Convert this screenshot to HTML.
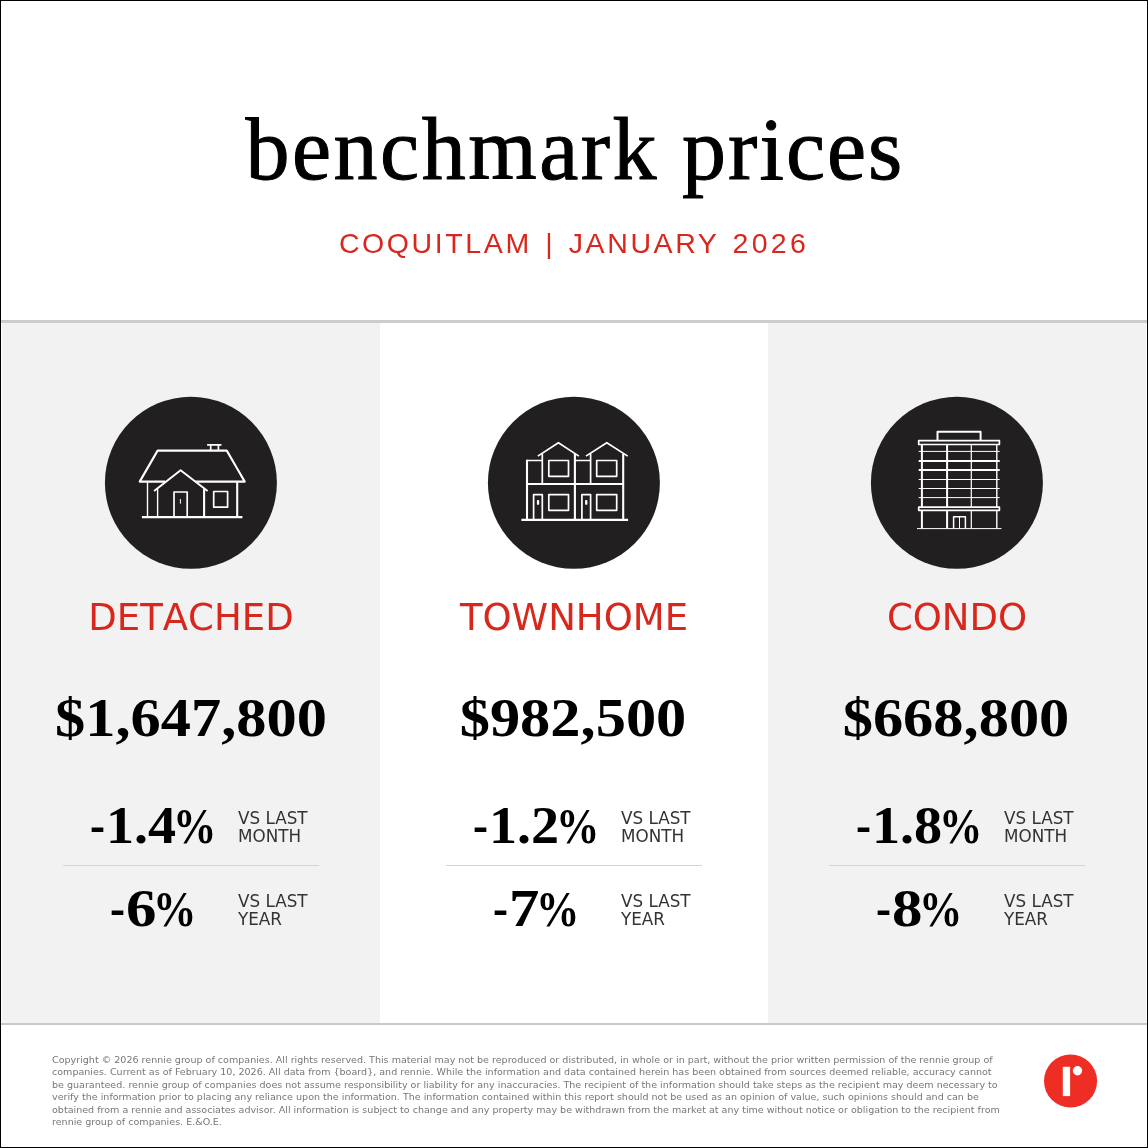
<!DOCTYPE html>
<html lang="en">
<head>
<meta charset="utf-8">
<title>benchmark prices</title>
<style>
html,body{margin:0;padding:0;background:#fff;}
body{width:1148px;height:1148px;position:relative;overflow:hidden;font-family:"DejaVu Sans","Liberation Sans",sans-serif;}
#wrap{position:absolute;left:0;top:0;width:1148px;height:1148px;will-change:transform;}
.abs{position:absolute;}
#frame{left:0;top:0;width:1146px;height:1146px;border:1px solid #000;pointer-events:none;z-index:10;}
#title{left:0;top:95px;width:1148px;text-align:center;font-family:"Liberation Serif",serif;font-size:88px;line-height:110px;padding-left:2px;box-sizing:border-box;color:#000;white-space:pre;-webkit-text-stroke:1px #000;}
#sub{left:0;top:226px;width:1148px;text-align:center;font-family:"Liberation Sans",sans-serif;font-size:28.5px;line-height:34px;letter-spacing:2.6px;word-spacing:3px;padding-left:0px;box-sizing:border-box;color:#d8271c;white-space:nowrap;}
#div1{left:1px;top:320px;width:1146px;height:3px;background:#ccc;}
#div2{left:1px;top:1023px;width:1146px;height:2px;background:#c9c9c9;}
.col{top:323px;height:700px;background:#f2f2f2;}
#c1{left:2px;width:378px;}
#c3{left:768px;width:378px;}
.card{top:323px;height:700px;}
.ico{left:88px;top:57px;width:200px;height:200px;overflow:visible;}
.ico *{fill:none;stroke:#fff;stroke-width:1.7;stroke-linecap:butt;stroke-linejoin:round;}
.ico .bg{fill:#221f20;stroke:none;}
.ico .g{stroke-width:2.1;}
.ico .t{stroke-width:1;}
.ico .f{fill:#fff;stroke:none;}
.label{left:0;width:100%;top:271px;text-align:center;font-size:37px;line-height:48px;font-kerning:none;color:#d8271c;white-space:nowrap;}
.price{left:0;width:100%;top:363px;text-align:center;font-family:"Liberation Serif","DejaVu Serif",serif;font-weight:bold;font-size:55px;line-height:64px;color:#000;white-space:nowrap;transform:scaleX(1.099);transform-origin:50% 50%;}
.pct{font-family:"Liberation Serif","DejaVu Serif",serif;font-weight:bold;font-size:52px;line-height:56px;color:#000;white-space:nowrap;text-align:center;}
.pct span{display:inline-block;transform-origin:0 81%;}
.pct .h{transform:translateY(-1.5px) scaleX(.866);margin-left:1px;margin-right:calc(-0.0446em + 0.4px);}
.pct.r2 .h{margin-left:1.7px;margin-right:calc(-0.0446em + 1.4px);}
.pct.r2 .d1{margin-right:calc(0.085em - 1.7px);}
.pct .d3{transform:scaleX(1.08);margin-right:0.1em;}
.pct .d1{transform:scaleX(1.17);margin-right:0.085em;}
.pct .p{transform:scale(.835,.975);margin-left:-2.4px;margin-right:-0.165em;}
.vs{font-size:16.8px;line-height:18px;color:#333;white-space:nowrap;}
.rule{height:1px;background:#d4d4d4;}
#foot{left:52px;top:1053.5px;width:1000px;font-size:9.56px;line-height:12.5px;color:#777;white-space:nowrap;}
#logo{left:1035px;top:1045px;width:70px;height:70px;}
</style>
</head>
<body>
<div id="wrap">
<div class="abs" id="title"><span style="letter-spacing:2.5px">benchmark</span><span style="letter-spacing:1px"> </span><span style="letter-spacing:2.05px">prices</span></div>
<div class="abs" id="sub">COQUITLAM | JANUARY <span style="letter-spacing:3.3px">2026</span></div>
<div class="abs" id="div1"></div>
<div class="abs col" id="c1"></div>
<div class="abs col" id="c3"></div>
<div class="abs" id="div2"></div>

<div class="abs card" id="k1" style="left:2px;width:378px;">
  <svg class="abs ico" viewBox="0 0 200 200">
    <circle class="bg" cx="100.9" cy="102.8" r="86"/>
    <path d="M117.1 64.8H131.5M120.7 64.8V70.6M128.4 64.8V70.6"/>
    <path style="stroke-width:2.1" d="M75.3 101.6H49.7L67.6 70.6H136.8L154.7 101.6H105.4"/>
    <path style="stroke-width:1.9" d="M64.1 111.1L90.6 90.2L117.6 111.1"/>
    <path style="stroke-width:1.4" d="M57.5 101.6V137.1M67.6 108.9V137.1"/>
    <path style="stroke-width:2.1" d="M147.2 101.6V137.1M114.1 108.9V137.1"/>
    <path d="M84 137.1V112H97.2V137.1"/>
    <path class="t" d="M90.4 119V123.7"/>
    <rect x="123.7" y="111.5" width="13.9" height="15.7"/>
    <path class="g" d="M51.9 137.1H152.4"/>
  </svg>
  <div class="abs label">DETACHED</div>
  <div class="abs price">$1,647,800</div>
  <div class="abs pct" style="left:61px;width:180px;top:475px;"><span class="h">-</span><span class="d3">1.4</span><span class="p">%</span></div>
  <div class="abs vs" style="left:236px;top:486px;">VS LAST<br>MONTH</div>
  <div class="abs rule" style="left:61px;width:256px;top:542px;"></div>
  <div class="abs pct r2" style="left:60px;width:180px;top:558px;"><span class="h">-</span><span class="d1">6</span><span class="p">%</span></div>
  <div class="abs vs" style="left:236px;top:569px;">VS LAST<br>YEAR</div>
</div>

<div class="abs card" id="k2" style="left:385px;width:378px;">
  <svg class="abs ico" viewBox="0 0 200 200">
    <circle class="bg" cx="100.9" cy="102.8" r="86"/>
    <path d="M54 80.5H69.3M101.9 80.5H117.6M69.3 73.5V104M117.6 73.5V104"/>
    <path style="stroke-width:2.1" d="M54 139.9V79.7M54 104H150.2M101.9 73.5V139.9M150.2 73.5V139.9"/>
    <path d="M64.8 76.1L85.4 62.7L105.9 76.1M112.9 76.1L133.8 62.7L154.7 76.1"/>
    <rect x="75.8" y="80.5" width="19.7" height="15.8"/><rect x="123.7" y="80.5" width="20" height="15.8"/>
    <rect x="75.8" y="114.6" width="19.7" height="15.7"/><rect x="123.7" y="114.6" width="20" height="15.7"/>
    <path d="M60.6 139.9V114.6H69.3V139.9M108.9 139.9V114.6H117.6V139.9"/>
    <rect class="f" x="63.9" y="120" width="2.3" height="4.8" rx="0.9"/><rect class="f" x="112.1" y="120" width="2.3" height="4.8" rx="0.9"/>
    <path class="g" d="M48.4 139.9H155.1"/>
  </svg>
  <div class="abs label">TOWNHOME</div>
  <div class="abs price" style="left:-1px;">$982,500</div>
  <div class="abs pct" style="left:61px;width:180px;top:475px;"><span class="h">-</span><span class="d3">1.2</span><span class="p">%</span></div>
  <div class="abs vs" style="left:236px;top:486px;">VS LAST<br>MONTH</div>
  <div class="abs rule" style="left:61px;width:256px;top:542px;"></div>
  <div class="abs pct r2" style="left:60px;width:180px;top:558px;"><span class="h">-</span><span class="d1">7</span><span class="p">%</span></div>
  <div class="abs vs" style="left:236px;top:569px;">VS LAST<br>YEAR</div>
</div>

<div class="abs card" id="k3" style="left:768px;width:378px;">
  <svg class="abs ico" viewBox="0 0 200 200">
    <circle class="bg" cx="100.9" cy="102.8" r="86"/>
    <path style="stroke-width:2" d="M81.5 60.6V51.7H124.6V60.6"/>
    <rect x="62.7" y="60.6" width="80.7" height="3.9"/>
    <rect x="62.7" y="127.2" width="80.7" height="3.1"/>
    <path style="stroke-width:2" d="M65.9 64.5V127.2M65.9 130.3V148.6M91.1 64.5V127.2M91.1 130.3V148.6"/>
    <path style="stroke-width:1.2" d="M115.3 64.5V127.2M115.3 130.3V148.6"/>
    <path style="stroke-width:1.4" d="M140.8 64.5V127.2M140.8 130.3V148.6"/>
    <path class="t" d="M62.7 71.4H143.7M62.7 99.5H143.7M62.7 108.5H143.7M62.7 117.6H143.7"/>
    <path style="stroke-width:2" d="M62.7 81H143.7M62.7 90H143.7"/>
    <path style="stroke-width:1.5" d="M97.6 148.6V136.8H109.4V148.6"/>
    <path class="t" d="M103.5 136.8V148.6"/>
    <path class="t" d="M61 148.6H145.5"/>
  </svg>
  <div class="abs label">CONDO</div>
  <div class="abs price" style="left:-1px;">$668,800</div>
  <div class="abs pct" style="left:61px;width:180px;top:475px;"><span class="h">-</span><span class="d3">1.8</span><span class="p">%</span></div>
  <div class="abs vs" style="left:236px;top:486px;">VS LAST<br>MONTH</div>
  <div class="abs rule" style="left:61px;width:256px;top:542px;"></div>
  <div class="abs pct r2" style="left:60px;width:180px;top:558px;"><span class="h">-</span><span class="d1">8</span><span class="p">%</span></div>
  <div class="abs vs" style="left:236px;top:569px;">VS LAST<br>YEAR</div>
</div>

<div class="abs" id="foot">Copyright © 2026 rennie group of companies. All rights reserved. This material may not be reproduced or distributed, in whole or in part, without the prior written permission of the rennie group of<br>
companies. Current as of February 10, 2026. All data from {board}, and rennie. While the information and data contained herein has been obtained from sources deemed reliable, accuracy cannot<br>
be guaranteed. rennie group of companies does not assume responsibility or liability for any inaccuracies. The recipient of the information should take steps as the recipient may deem necessary to<br>
verify the information prior to placing any reliance upon the information. The information contained within this report should not be used as an opinion of value, such opinions should and can be<br>
obtained from a rennie and associates advisor. All information is subject to change and any property may be withdrawn from the market at any time without notice or obligation to the recipient from<br>
rennie group of companies. E.&amp;O.E.</div>
<svg class="abs" id="logo" viewBox="0 0 70 70"><circle cx="35.55" cy="36" r="26.55" fill="#ee2e24"/><rect x="27.8" y="21.8" width="7.3" height="29.3" fill="#fff"/><circle cx="42.5" cy="25.7" r="4.7" fill="#fff"/></svg>
<div class="abs" id="frame"></div>
</div>
</body>
</html>
